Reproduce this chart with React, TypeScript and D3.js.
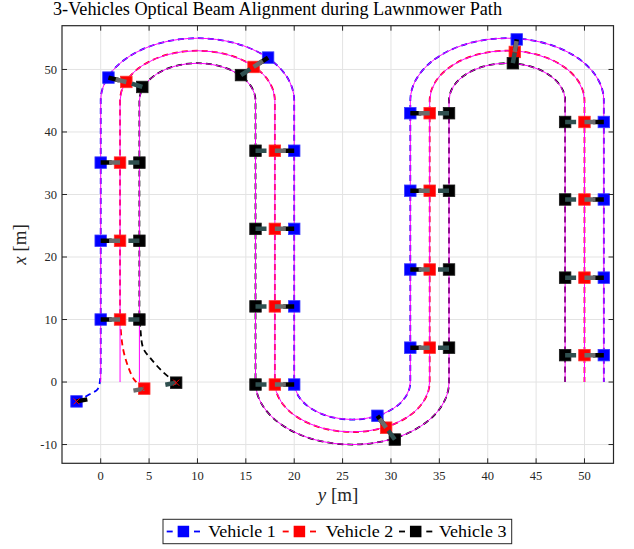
import React from "react";
import * as d3 from "d3";

// ---------- data (y = horizontal axis, x = vertical axis) ----------
const vehicleNames = ["Vehicle 1", "Vehicle 2", "Vehicle 3"];
const vehicleColors = ["#0000ff", "#ff0000", "#000000"];
const beamColors = ["#000000", "#6b6b6b", "#2f4f4f"];
const beamTargets = [1, 0, 1];

// lawnmower lanes (y positions of the straight legs) per vehicle
const lanes1 = [0, 20, 32, 52];
const lanes2 = [2, 18, 34, 50];
const lanes3 = [4, 16, 36, 48];
const laneTopX = 45;
const laneBottomX = 0;

// initial approach of each vehicle to its lane, [y, x]
const approach1: [number, number][] = [[-2.5, -3.1], [-1.2, -2.0], [-0.3, -1.1], [-0.05, 0.5], [0, 2.5]];
const approach2: [number, number][] = [[4.5, -1.05], [3.5, 0.3], [2.8, 2.6], [2.3, 5.4], [2.05, 9], [2, 12]];
const approach3: [number, number][] = [[7.8, -0.1], [6.5, 1.5], [5.2, 3.7], [4.4, 5.4], [4.1, 8.6], [4, 11]];

// snapshot positions, [y, x]
const snaps1: [number, number][] = [[-2.5, -3.1], [0, 10], [0, 22.6], [0, 35.1], [0.8, 48.7], [17.3, 51.9], [20, 37], [20, 24.5], [20, 12.1], [20, -0.4], [28.6, -5.4], [32, 5.5], [32, 18], [32, 30.6], [32, 43], [43, 54.8], [52, 41.6], [52, 29.2], [52, 16.7], [52, 4.3]];
const snaps2: [number, number][] = [[4.5, -1.05], [2, 10], [2, 22.6], [2, 35.1], [2.65, 48], [15.8, 50.4], [18, 37], [18, 24.5], [18, 12.1], [18, -0.4], [29.5, -7.3], [34, 5.5], [34, 18], [34, 30.6], [34, 43], [42.8, 52.8], [50, 41.6], [50, 29.2], [50, 16.7], [50, 4.3]];
const snaps3: [number, number][] = [[7.8, -0.1], [4, 10], [4, 22.6], [4, 35.1], [4.3, 47.2], [14.5, 49.1], [16, 37], [16, 24.5], [16, 12.1], [16, -0.4], [30.4, -9.2], [36, 5.5], [36, 18], [36, 30.6], [36, 43], [42.6, 51], [48, 41.6], [48, 29.2], [48, 16.7], [48, 4.3]];

const xTicks = [0, 5, 10, 15, 20, 25, 30, 35, 40, 45, 50];
const yTicks = [-10, 0, 10, 20, 30, 40, 50];
const titleText = "3-Vehicles Optical Beam Alignment during Lawnmower Path";

// ---------- layout ----------
const W = 634, H = 549;
const L = 62, R = 613.5, T = 25.7, B = 463.3;
const FONT = "'Liberation Serif', 'Times New Roman', serif";

const sx = d3.scaleLinear().domain([-4, 53]).range([L, R]);
const sy = d3.scaleLinear().domain([-13, 57]).range([B, T]);

function lawnPath(lanes: number[], startX: number, move: boolean): string {
  let d = `${move ? "M" : "L"}${sx(lanes[0])},${sy(startX)}`;
  for (let i = 0; i < lanes.length; i++) {
    const goingUp = i % 2 === 0;
    const endX = goingUp ? laneTopX : laneBottomX;
    d += `L${sx(lanes[i])},${sy(endX)}`;
    if (i < lanes.length - 1) {
      const rx = Math.abs(sx(lanes[i + 1]) - sx(lanes[i])) / 2;
      const r = Math.abs(lanes[i + 1] - lanes[i]) / 2;
      const ry = Math.abs(sy(0) - sy(r));
      const sweep = goingUp ? 1 : 0;
      d += `A${rx},${ry} 0 0 ${sweep} ${sx(lanes[i + 1])},${sy(endX)}`;
    }
  }
  return d;
}

const lanesAll = [lanes1, lanes2, lanes3];
const approachAll = [approach1, approach2, approach3];
const snapsAll = [snaps1, snaps2, snaps3];

const approachLine = d3
  .line<[number, number]>()
  .x((p) => sx(p[0]))
  .y((p) => sy(p[1]))
  .curve(d3.curveCatmullRom);

const MS = 11.5; // marker size
const BEAM_LEN = 11;

export default function App() {
  const gridX = xTicks.map((t) => sx(t));
  const gridY = yTicks.map((t) => sy(t));
  return (
    <svg width={W} height={H} style={{ position: "absolute", left: 0, top: 0, background: "#fff" }}>
      <rect x={0} y={0} width={W} height={H} fill="#fff" />
      <rect x={L} y={T} width={R - L} height={B - T} fill="#fff" />
      {/* grid */}
      {gridX.map((x, i) => (
        <line key={"gx" + i} x1={x} x2={x} y1={T} y2={B} stroke="#e3e3e3" strokeWidth={1} />
      ))}
      {gridY.map((y, i) => (
        <line key={"gy" + i} x1={L} x2={R} y1={y} y2={y} stroke="#e3e3e3" strokeWidth={1} />
      ))}
      <defs>
        <clipPath id="plotclip">
          <rect x={L} y={T} width={R - L} height={B - T} />
        </clipPath>
      </defs>
      <g clipPath="url(#plotclip)">
        {/* actual trajectories (dashed) */}
        {lanesAll.map((lanes, v) => {
          const ap = approachAll[v];
          const d = (approachLine(ap) || "") + lawnPath(lanes, ap[ap.length - 1][1], false);
          return (
            <path key={"tr" + v} d={d} fill="none" stroke={vehicleColors[v]} strokeWidth={1.8} strokeDasharray="6,4" />
          );
        })}
        {/* reference paths */}
        {lanesAll.map((lanes, v) => (
          <path key={"ref" + v} d={lawnPath(lanes, laneBottomX, true)} fill="none" stroke="#ff00ff" strokeWidth={1} />
        ))}
        {/* vehicle markers */}
        {snapsAll.map((snaps, v) =>
          snaps.map((p, i) => (
            <rect
              key={`m${v}-${i}`}
              x={sx(p[0]) - MS / 2}
              y={sy(p[1]) - MS / 2}
              width={MS}
              height={MS}
              fill={vehicleColors[v]}
              stroke={v === 0 ? "#3a3aff" : v === 1 ? "#ff3030" : "#1a1a1a"}
              strokeWidth={0.8}
            />
          ))
        )}
        {/* beams */}
        {snapsAll.map((snaps, v) =>
          snaps.map((p, i) => {
            const q = snapsAll[beamTargets[v]][i];
            const x0 = sx(p[0]), y0 = sy(p[1]);
            const dx = sx(q[0]) - x0, dy = sy(q[1]) - y0;
            const len = Math.hypot(dx, dy) || 1;
            return (
              <line
                key={`b${v}-${i}`}
                x1={x0}
                y1={y0}
                x2={x0 + (dx / len) * BEAM_LEN}
                y2={y0 + (dy / len) * BEAM_LEN}
                stroke={beamColors[v]}
                strokeWidth={4.5}
              />
            );
          })
        )}
        {/* start markers */}
        {snapsAll.map((snaps, v) => {
          const x0 = sx(snaps[0][0]), y0 = sy(snaps[0][1]);
          const s = 3;
          return (
            <g key={"st" + v} stroke="#ff0000" strokeWidth={1}>
              <line x1={x0 - s} y1={y0 - s} x2={x0 + s} y2={y0 + s} />
              <line x1={x0 - s} y1={y0 + s} x2={x0 + s} y2={y0 - s} />
            </g>
          );
        })}
      </g>
      {/* ticks */}
      {gridX.map((x, i) => (
        <g key={"tx" + i} stroke="#262626" strokeWidth={1}>
          <line x1={x} x2={x} y1={B} y2={B - 5} />
          <line x1={x} x2={x} y1={T} y2={T + 5} />
        </g>
      ))}
      {gridY.map((y, i) => (
        <g key={"ty" + i} stroke="#262626" strokeWidth={1}>
          <line x1={L} x2={L + 5} y1={y} y2={y} />
          <line x1={R} x2={R - 5} y1={y} y2={y} />
        </g>
      ))}
      <rect x={L} y={T} width={R - L} height={B - T} fill="none" stroke="#262626" strokeWidth={1.2} />
      {/* tick labels */}
      {xTicks.map((t, i) => (
        <text key={"lx" + i} x={sx(t)} y={480} textAnchor="middle" fontFamily={FONT} fontSize={12.5} fill="#262626">
          {t}
        </text>
      ))}
      {yTicks.map((t, i) => (
        <text key={"ly" + i} x={57} y={sy(t) + 4.3} textAnchor="end" fontFamily={FONT} fontSize={12.5} fill="#262626">
          {t}
        </text>
      ))}
      {/* axis labels */}
      <text x={338} y={501} textAnchor="middle" fontFamily={FONT} fontSize={19} fill="#262626">
        <tspan fontStyle="italic">y</tspan> [m]
      </text>
      <text
        x={0}
        y={0}
        transform={`translate(26,${(T + B) / 2}) rotate(-90)`}
        textAnchor="middle"
        fontFamily={FONT}
        fontSize={19}
        fill="#262626"
      >
        <tspan fontStyle="italic">x</tspan> [m]
      </text>
      {/* title */}
      <text x={277.5} y={14.5} textAnchor="middle" fontFamily={FONT} fontSize={18.5} fill="#000" textLength={449} lengthAdjust="spacingAndGlyphs">
        {titleText}
      </text>
      {/* legend */}
      <rect x={163} y={519.3} width={348.7} height={24.4} fill="#fff" stroke="#262626" strokeWidth={1} />
      {[
        { x0: 166.7, tx: 208.3 },
        { x0: 282.7, tx: 325.7 },
        { x0: 399, tx: 439 },
      ].map((e, v) => {
        const cy = 531.5;
        return (
          <g key={"lg" + v}>
            <line x1={e.x0} x2={e.x0 + 6} y1={cy} y2={cy} stroke={vehicleColors[v]} strokeWidth={1.8} />
            <line x1={e.x0 + 27.3} x2={e.x0 + 33.3} y1={cy} y2={cy} stroke={vehicleColors[v]} strokeWidth={1.8} />
            <rect x={e.x0 + 16.7 - MS / 2} y={cy - MS / 2} width={MS} height={MS} fill={vehicleColors[v]} />
            <text x={e.tx} y={537} fontFamily={FONT} fontSize={17} fill="#000" textLength={67.5} lengthAdjust="spacingAndGlyphs">
              {vehicleNames[v]}
            </text>
          </g>
        );
      })}
    </svg>
  );
}
